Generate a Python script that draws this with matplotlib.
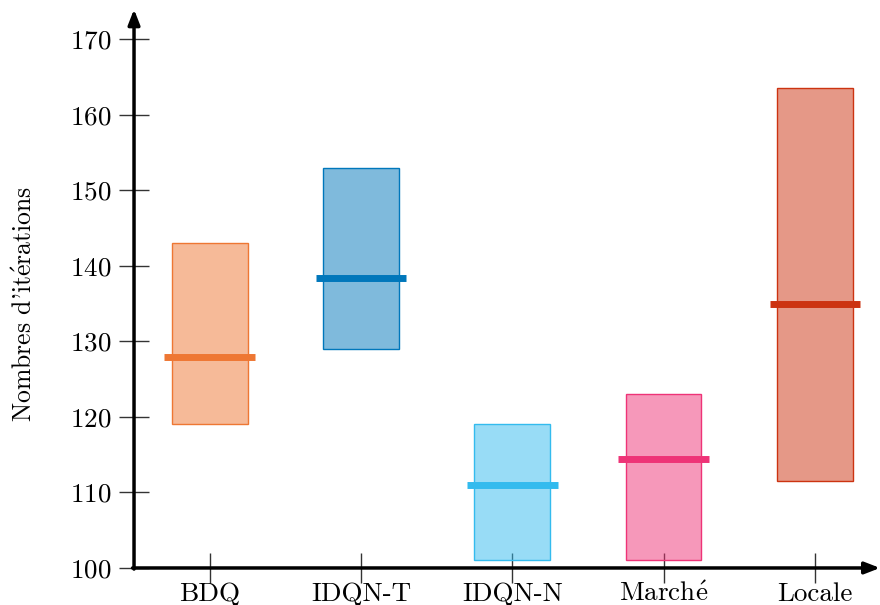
import matplotlib.pyplot as plt
from matplotlib.colors import to_rgba

plt.rcParams['font.family'] = ['cmr10', 'DejaVu Serif']
plt.rcParams['mathtext.fontset'] = 'cm'
plt.rcParams['axes.formatter.use_mathtext'] = True

# data
methods = ['BDQ', 'IDQN-T', 'IDQN-N', r'March$\mathrm{\acute{e}}$', 'Locale']
lows = [119, 129, 101, 101, 111.5]
highs = [143, 153, 119, 123, 163.5]
medians = [127.9, 138.4, 111, 114.4, 135]
colors = ['#EE7733', '#0077BB', '#33BBEE', '#EE3377', '#CC3311']
y_ticks = [100, 110, 120, 130, 140, 150, 160, 170]

fig = plt.figure(figsize=(8.8, 6.05), dpi=100)
ax = fig.add_axes([0.1523, 0.0612, 0.8477, 0.9188])

positions = list(range(1, len(methods) + 1))
for x, lo, hi, med, c in zip(positions, lows, highs, medians, colors):
    ax.bar(x, hi - lo, bottom=lo, width=0.5,
           facecolor=to_rgba(c, 0.5), edgecolor=c, linewidth=1, zorder=2)
    ax.hlines(med, x - 0.3, x + 0.3, color=c, linewidth=5, zorder=3)

ax.set_xlim(0.5, 5.43)
ax.set_ylim(100, 173.6)
ax.set_xticks(positions)
ax.set_xticklabels(methods)
ax.set_yticks(y_ticks)
ax.tick_params(axis='both', direction='inout', length=22, width=1,
               color='#333333', labelsize=19.5)
ax.tick_params(axis='x', pad=-1)
ax.tick_params(axis='y', pad=5)
ax.set_ylabel(r"Nombres d'it$\mathrm{\acute{e}}$rations", fontsize=18.5)
ax.yaxis.set_label_coords(-0.130, 0.475)

for side in ['top', 'right', 'left', 'bottom']:
    ax.spines[side].set_visible(False)

arrow = dict(arrowstyle='-|>,head_length=0.9,head_width=0.35',
             lw=2.5, color='black', shrinkA=0, shrinkB=0)
ax.annotate('', xy=(1.0, 0), xycoords='axes fraction',
            xytext=(-0.002, 0), textcoords='axes fraction',
            arrowprops=arrow, annotation_clip=False)
ax.annotate('', xy=(0, 1.005), xycoords='axes fraction',
            xytext=(0, -0.002), textcoords='axes fraction',
            arrowprops=arrow, annotation_clip=False)

fig.savefig('out.png', dpi=100)
